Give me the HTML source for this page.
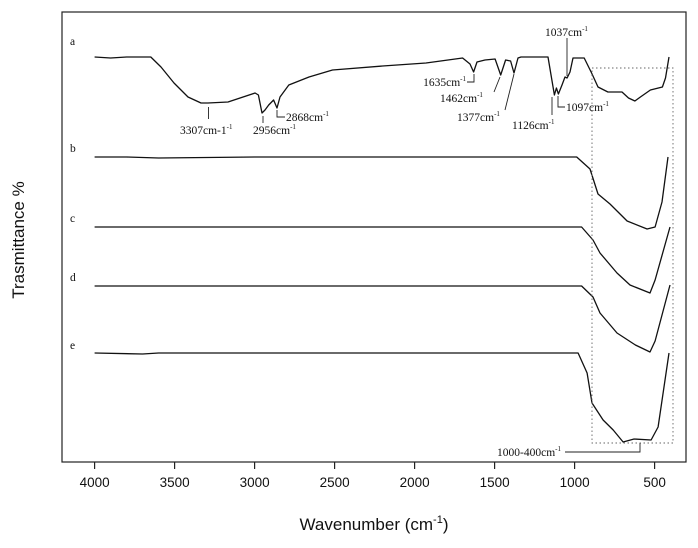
<!DOCTYPE html>
<html><head><meta charset="utf-8"><style>
body{margin:0;background:#fff;width:698px;height:548px;overflow:hidden}
svg{display:block}
.ann{font-family:"Liberation Serif",serif;font-size:11.5px;fill:#111}
.tick{font-family:"Liberation Sans",sans-serif;font-size:13.5px;fill:#111}
</style></head><body>
<svg id="chart" width="698" height="548" viewBox="0 0 698 548" xmlns="http://www.w3.org/2000/svg">
<rect x="62" y="12" width="624" height="450" fill="none" stroke="#222" stroke-width="1.2"/>
<g id="axis"></g>
<g id="series"></g>
<rect x="592" y="68" width="81" height="375" fill="none" stroke="#666" stroke-width="0.9" stroke-dasharray="1.5,2.5"/>
<g fill="none" stroke="#222" stroke-width="0.9">
<polyline points="565,452 640,452 640,443"/>
</g>
<text class="ann" x="561" y="456" text-anchor="end">1000-400cm<tspan dy="-5" font-size="7">-1</tspan></text>
<g fill="none" stroke="#222" stroke-width="0.9">
<line x1="208.5" y1="107" x2="208.5" y2="119"/>
<line x1="263" y1="116" x2="263" y2="123"/>
<polyline points="277,110 277,117 285,117"/>
<polyline points="474,74 474,82 467,82"/>
<line x1="494" y1="92" x2="500" y2="77"/>
<line x1="505" y1="110" x2="514" y2="74"/>
<line x1="552" y1="97" x2="552" y2="115"/>
<polyline points="558,96 558,107 565,107"/>
<line x1="567" y1="38" x2="567" y2="76"/>
</g>
<g>
<text class="ann" x="180" y="134">3307cm-1<tspan dy="-5" font-size="7">-1</tspan></text>
<text class="ann" x="253" y="134">2956cm<tspan dy="-5" font-size="7">-1</tspan></text>
<text class="ann" x="286" y="121">2868cm<tspan dy="-5" font-size="7">-1</tspan></text>
<text class="ann" x="466" y="86" text-anchor="end">1635cm<tspan dy="-5" font-size="7">-1</tspan></text>
<text class="ann" x="440" y="102">1462cm<tspan dy="-5" font-size="7">-1</tspan></text>
<text class="ann" x="457" y="121">1377cm<tspan dy="-5" font-size="7">-1</tspan></text>
<text class="ann" x="512" y="129">1126cm<tspan dy="-5" font-size="7">-1</tspan></text>
<text class="ann" x="566" y="111">1097cm<tspan dy="-5" font-size="7">-1</tspan></text>
<text class="ann" x="545" y="36">1037cm<tspan dy="-5" font-size="7">-1</tspan></text>
</g>
<text transform="translate(24,240) rotate(-90)" text-anchor="middle" font-family="Liberation Sans, sans-serif" font-size="17" fill="#111">Trasmittance %</text>
<text x="374" y="530" text-anchor="middle" font-family="Liberation Sans, sans-serif" font-size="17" fill="#111">Wavenumber (cm<tspan dy="-7" font-size="11">-1</tspan><tspan dy="7">)</tspan></text>
</svg>
<script>
const xTicks=[4000,3500,3000,2500,2000,1500,1000,500];
const seriesNames=["a","b","c","d","e"];
const baseY=[57,157,227,286,353];
const wn_a=[4000,3900,3800,3649,3585,3504,3416,3335,3292,3166,2997,2976,2954,2935,2912,2881,2860,2841,2786,2660,2513,2200,1929,1700,1654,1631,1610,1560,1497,1462,1431,1400,1379,1354,1335,1166,1126,1114,1101,1079,1060,1047,1029,1010,940,894,854,792,704,663,623,589,526,451,432,410];
const t_a=[0,-1,0,0,-10,-26,-40,-46,-46,-45,-36,-38,-56,-53,-48,-43,-51,-40,-28,-20,-13,-9,-6,-1,-7,-15,-5,-3,-2,-18,-3,-4,-16,-1,0,0,-38,-31,-37,-28,-20,-21,-15,-1,-1,-16,-30,-35,-35,-41,-44,-40,-33,-30,-21,0];
const wn_b=[4000,3800,3600,3000,2000,1500,1050,987,904,854,779,672,547,497,454,416];
const t_b=[0,0,-1,0,0,0,0,0,-12,-37,-47,-64,-72,-70,-45,0];
const wn_c=[4000,3600,3000,2000,1500,1050,956,885,841,735,654,529,497,404];
const t_c=[0,0,0,0,0,0,0,-13,-26,-46,-58,-66,-53,0];
const wn_d=[4000,3600,3000,2000,1500,1050,956,885,841,735,620,529,497,404];
const t_d=[0,0,0,0,0,0,0,-11,-27,-47,-59,-66,-55,1];
const wn_e=[4000,3700,3600,3000,2000,1500,1050,978,922,891,822,759,697,628,522,478,410];
const t_e=[0,-1,0,0,0,0,0,0,-20,-50,-67,-77,-89,-86,-87,-74,0];
const wnAll=[wn_a,wn_b,wn_c,wn_d,wn_e];
const tAll=[t_a,t_b,t_c,t_d,t_e];
const labelY=[45,152,222,281,349];
function xs(w){return 94.6+(4000-w)*0.16;}
function ys(s,t){return baseY[s]-t;}
const NS="http://www.w3.org/2000/svg";
const ax=document.getElementById('axis');
xTicks.forEach(v=>{
 const l=document.createElementNS(NS,'line');
 
 
 l.setAttribute('x1',xs(v));l.setAttribute('x2',xs(v));l.setAttribute('y1',462);l.setAttribute('y2',469);
 l.setAttribute('stroke','#222');l.setAttribute('stroke-width','1.2');ax.appendChild(l);
 const t=document.createElementNS(NS,'text');
 
 
 t.setAttribute('x',xs(v));t.setAttribute('y',487);t.setAttribute('text-anchor','middle');t.setAttribute('class','tick');
 t.textContent=v;ax.appendChild(t);
});
const sg=document.getElementById('series');
seriesNames.forEach((n,s)=>{
 const w=wnAll[s],tv=tAll[s];
 const d=w.map((v,i)=>(i?'L':'M')+xs(v).toFixed(1)+','+ys(s,tv[i]).toFixed(1)).join(' ');
 const p=document.createElementNS(NS,'path');
 
 
 p.setAttribute('d',d);p.setAttribute('fill','none');p.setAttribute('stroke','#111');p.setAttribute('stroke-width','1.3');p.setAttribute('stroke-linejoin','round');
 sg.appendChild(p);
 const t=document.createElementNS(NS,'text');
 
 
 t.setAttribute('x',70);t.setAttribute('y',labelY[s]);t.setAttribute('class','ann');
 t.textContent=n;sg.appendChild(t);
});
</script>
</body></html>
